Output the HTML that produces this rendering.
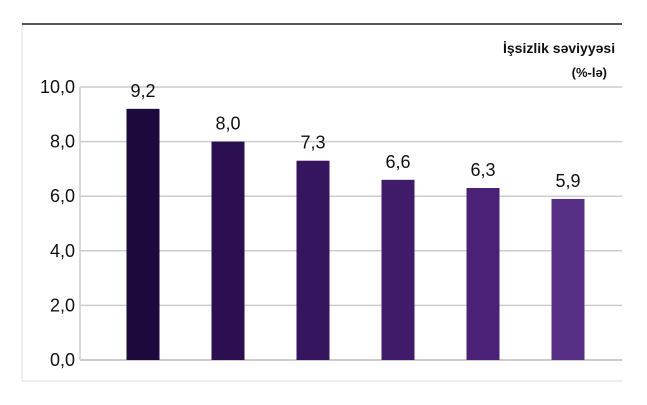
<!DOCTYPE html>
<html><head><meta charset="utf-8"><style>
body{margin:0;background:#fff;width:647px;height:400px;overflow:hidden;font-family:"Liberation Sans",sans-serif}
</style></head><body>
<svg id="c" width="647" height="400">
<rect x="22" y="24" width="620" height="357" fill="#fff" stroke="#ddd"/>
<line x1="22" y1="24" x2="622" y2="24" stroke="#555" stroke-width="2"/>
<text x="503" y="53" font-size="14" font-weight="bold" fill="#111">İşsizlik səviyyəsi</text>
<rect x="622" y="0" width="25" height="400" fill="#fff"/>
<text x="607" y="77" text-anchor="end" font-size="13" font-weight="bold" fill="#111">(%-lə)</text>
<g id="grid"></g><g id="bars"></g>
</svg>
<script>
const ticks=[0,2,4,6,8,10];
const tickLabels=["0,0","2,0","4,0","6,0","8,0","10,0"];
const values=[9.2,8.0,7.3,6.6,6.3,5.9];
const valueLabels=["9,2","8,0","7,3","6,6","6,3","5,9"];
const colors=["#1b0a3b","#2b0f50","#35155e","#3f1b6a","#4a2176","#573086"];
const NS="http://www.w3.org/2000/svg";
const y0=360,yTop=87,x0=80,x1=622;
const y=v=>y0-(v/10)*(y0-yTop);
const xc=i=>143+i*85;
const grid=document.getElementById('grid'),bars=document.getElementById('bars');
function mk(t,a,p){const e=document.createElementNS(NS,t);for(const k in a)e.setAttribute(k,a[k]);p.appendChild(e);return e;}
ticks.forEach((t,i)=>{
 const l=mk('line',{x1:x0,x2:x1,y1:y(t),y2:y(t),stroke:t===0?'#bbb':'#ccc','stroke-width':1.5},grid);
 
 
 const tx=mk('text',{x:75,y:y(t)+6,'text-anchor':'end','font-size':18,fill:'#111'},grid);
 tx.textContent=tickLabels[i];
 
 
});
mk('line',{x1:x0,x2:x0,y1:y(10),y2:y0,stroke:'#ccc','stroke-width':1.5},grid);
values.forEach((v,i)=>{
 const r=mk('rect',{x:xc(i)-16.5,y:y(v),width:33,height:y0-y(v),fill:colors[i]},bars);
 
 
 const t=mk('text',{x:xc(i),y:y(v)-12,'text-anchor':'middle','font-size':18,fill:'#111'},bars);
 t.textContent=valueLabels[i];
 
 
});
</script>
</body></html>
